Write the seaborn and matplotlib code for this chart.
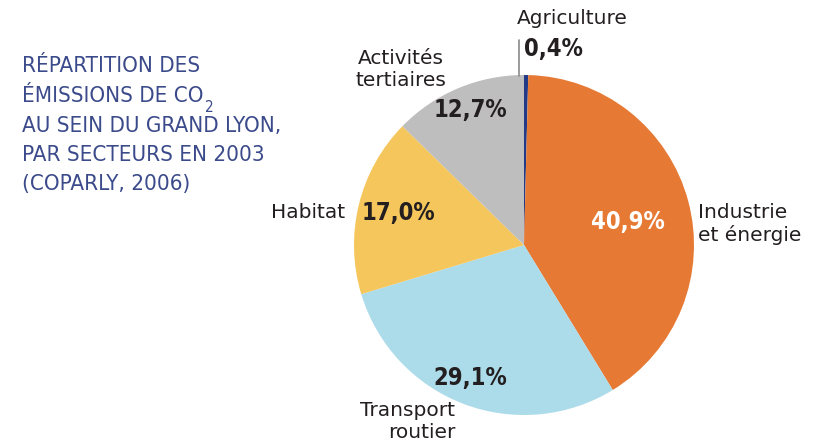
import matplotlib
matplotlib.use("Agg")
import matplotlib.pyplot as plt
import seaborn as sns

sns.set_theme(style="white")
plt.rcParams['font.family'] = ['DejaVu Sans']

# Data
sectors = ["Agriculture", "Industrie et énergie", "Transport routier", "Habitat", "Activités tertiaires"]
values = [0.4, 40.9, 29.1, 17.0, 12.7]
pct_labels = ["0,4%", "40,9%", "29,1%", "17,0%", "12,7%"]
outer_labels = ["Agriculture", "Industrie\net énergie", "Transport\nroutier", "Habitat", "Activités\ntertiaires"]
colors = ["#233a86", "#e67a35", "#acdbea", "#f5c65b", "#bebebe"]
title_lines = ["RÉPARTITION DES", "ÉMISSIONS DE CO", "AU SEIN DU GRAND LYON,", "PAR SECTEURS EN 2003", "(COPARLY, 2006)"]

W, H = 816, 447
fig = plt.figure(figsize=(W / 100, H / 100), dpi=100)
ax = fig.add_axes([0, 0, 1, 1])

cx, cy, r = 524, H - 245, 170
ax.pie(values, colors=colors, startangle=90, counterclock=False,
       center=(cx, cy), radius=r, frame=True,
       wedgeprops=dict(linewidth=0))
ax.set_xlim(0, W)
ax.set_ylim(0, H)
ax.set_aspect("equal")
ax.axis("off")

# agriculture leader line
ax.plot([519, 519], [H - 76, H - 40], color="#8a8a8a", lw=1.2)

pct_pos = [(524, 49, "left"), (628, 222, "center"), (470, 378, "center"), (398, 213, "center"), (470, 110, "center")]
pct_col = ["#231f20", "white", "#231f20", "#231f20", "#231f20"]
for (x, y, ha), t, c in zip(pct_pos, pct_labels, pct_col):
    ax.text(x, H - y, t, ha=ha, va="center", fontsize=17, fontweight="bold",
            fontstretch="condensed", color=c)

lab_pos = [(517, 18, "left"), (698, 224, "left"), (455, 422, "right"), (345, 212, "right"), (401, 70, "center")]
for (x, y, ha), t in zip(lab_pos, outer_labels):
    ax.text(x, H - y, t, ha=ha, va="center", fontsize=14.5, color="#231f20",
            linespacing=1.2, multialignment=ha if ha != "center" else "center")

tcol = "#3b4a8a"
ty = [66, 96, 126, 155, 184]
title_texts = []
for y, t in zip(ty, title_lines):
    title_texts.append(ax.text(22, H - y, t, ha="left", va="center", fontsize=16,
                               fontstretch="condensed", fontweight="medium", color=tcol))
fig.canvas.draw()
bb = title_texts[1].get_window_extent()
ax.text(bb.x1 + 1, H - 108, "2", ha="left", va="center", fontsize=11,
        fontstretch="condensed", color=tcol)

fig.savefig("out.png", dpi=100)
